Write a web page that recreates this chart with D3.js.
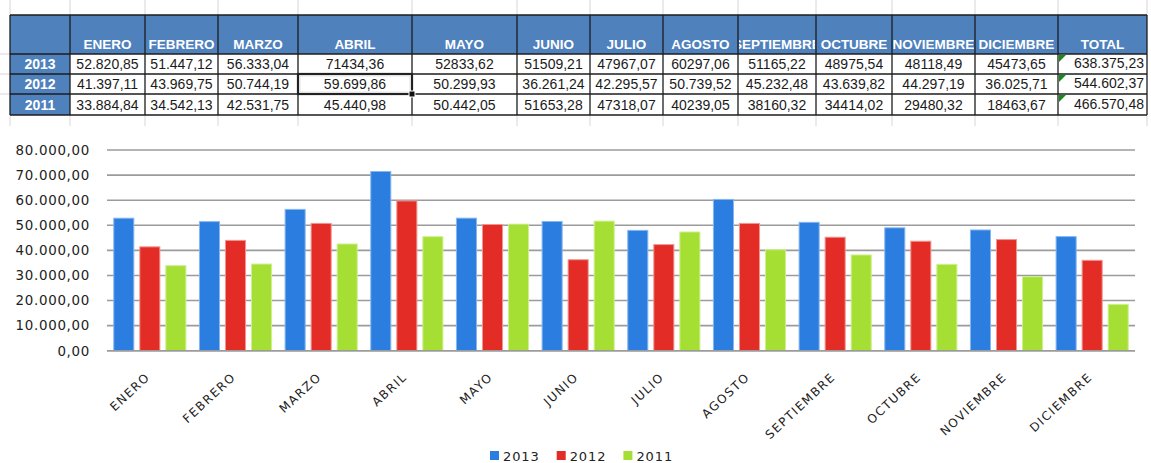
<!DOCTYPE html>
<html><head><meta charset="utf-8">
<script src="https://cdn.jsdelivr.net/npm/d3@7"></script>
<style>
html,body{margin:0;padding:0;background:#fff;}
svg{display:block;}
</style></head>
<body>
<svg id="c" width="1151" height="463"></svg>
<script>
const months = ["ENERO","FEBRERO","MARZO","ABRIL","MAYO","JUNIO","JULIO","AGOSTO","SEPTIEMBRE","OCTUBRE","NOVIEMBRE","DICIEMBRE"];
const years = ["2013","2012","2011"];
const v2013 = [52820.85,51447.12,56333.04,71434.36,52833.62,51509.21,47967.07,60297.06,51165.22,48975.54,48118.49,45473.65];
const v2012 = [41397.11,43969.75,50744.19,59699.86,50299.93,36261.24,42295.57,50739.52,45232.48,43639.82,44297.19,36025.71];
const v2011 = [33884.84,34542.13,42531.75,45440.98,50442.05,51653.28,47318.07,40239.05,38160.32,34414.02,29480.32,18463.67];
const totals = ["638.375,23","544.602,37","466.570,48"];
// table cell texts as shown in the sheet (some cells lack thousands separators)
const txt2013 = ["52.820,85","51.447,12","56.333,04","71434,36","52833,62","51509,21","47967,07","60297,06","51165,22","48975,54","48118,49","45473,65"];
const txt2012 = ["41.397,11","43.969,75","50.744,19","59.699,86","50.299,93","36.261,24","42.295,57","50.739,52","45.232,48","43.639,82","44.297,19","36.025,71"];
const txt2011 = ["33.884,84","34.542,13","42.531,75","45.440,98","50.442,05","51653,28","47318,07","40239,05","38160,32","34414,02","29480,32","18463,67"];
const yTicks = [0,10000,20000,30000,40000,50000,60000,70000,80000];

const series = [v2013, v2012, v2011];
const colors = ["#2B7DE0","#E22C25","#A6DF33"];
const strokes = ["#86B6F0","#F29490","#CDEF8E"];
const rowTexts = [txt2013, txt2012, txt2011];

const svg = d3.select("#c");
const locale = d3.formatLocale({decimal:",", thousands:".", grouping:[3], currency:["",""]});
const fmt = locale.format(",.2f");

// ---------- Table ----------
const colX = [10,70,145,218,298,412,517,590,663,738,816,892,975,1058,1147];
const rowY = [15,54,74,94,115];
const gridC = "#d6d6d6";
const tg = svg.append("g");
colX.forEach(x=>{
  tg.append("line").attr("x1",x).attr("x2",x).attr("y1",0).attr("y2",15).attr("stroke",gridC);
  tg.append("line").attr("x1",x).attr("x2",x).attr("y1",115).attr("y2",126).attr("stroke",gridC);
});
[54,74,94].forEach(y=>tg.append("line").attr("x1",0).attr("x2",10).attr("y1",y).attr("y2",y).attr("stroke",gridC));

const headers = [""].concat(months).concat(["TOTAL"]);
const defs = svg.append("defs");
headers.forEach((h,i)=>{
  const x0 = colX[i], x1 = colX[i+1];
  tg.append("rect").attr("x",x0).attr("y",rowY[0]).attr("width",x1-x0).attr("height",rowY[1]-rowY[0]).attr("fill","#4F81BD");
  defs.append("clipPath").attr("id","hc"+i).append("rect").attr("x",x0+1).attr("y",rowY[0]).attr("width",x1-x0-2).attr("height",rowY[1]-rowY[0]);
  tg.append("text").attr("x",(x0+x1)/2).attr("y",49).attr("text-anchor","middle")
    .attr("clip-path","url(#hc"+i+")")
    .attr("font-family","Liberation Sans, Arial, sans-serif").attr("font-weight","bold")
    .attr("font-size",13.5).attr("fill","#fff").text(h);
});
years.forEach((yr,r)=>{
  const y0 = rowY[r+1], y1 = rowY[r+2];
  tg.append("rect").attr("x",colX[0]).attr("y",y0).attr("width",colX[1]-colX[0]).attr("height",y1-y0).attr("fill","#4F81BD");
  tg.append("text").attr("x",(colX[0]+colX[1])/2).attr("y",y1-5).attr("text-anchor","middle")
    .attr("font-family","Liberation Sans, Arial, sans-serif").attr("font-weight","bold")
    .attr("font-size",14).attr("fill","#fff").text(yr);
  rowTexts[r].forEach((t,c)=>{
    const x0 = colX[c+1], x1 = colX[c+2];
    tg.append("text").attr("x",(x0+x1)/2).attr("y",y1-5).attr("text-anchor","middle")
      .attr("font-family","Liberation Sans, Arial, sans-serif")
      .attr("font-size",14).attr("fill","#1a1a1a").text(t);
  });
  tg.append("text").attr("x",colX[14]-3).attr("y",y1-6).attr("text-anchor","end")
    .attr("font-family","Liberation Sans, Arial, sans-serif")
    .attr("font-size",14).attr("fill","#1a1a1a").text(totals[r]);
  tg.append("path").attr("d",`M${colX[13]+1},${y0+1}h7l-7,7z`).attr("fill","#178A17");
});
const bc = "#1c1c1c";
colX.forEach(x=>tg.append("line").attr("x1",x).attr("x2",x).attr("y1",rowY[0]).attr("y2",rowY[4]).attr("stroke",bc).attr("stroke-width",1.3));
rowY.forEach(y=>tg.append("line").attr("x1",colX[0]).attr("x2",colX[14]).attr("y1",y).attr("y2",y).attr("stroke",bc).attr("stroke-width",1.3));
// selected cell (ABRIL 2012)
tg.append("rect").attr("x",colX[4]).attr("y",rowY[2]).attr("width",colX[5]-colX[4]).attr("height",rowY[3]-rowY[2])
  .attr("fill","none").attr("stroke","#222").attr("stroke-width",2.2);
tg.append("rect").attr("x",colX[4]+2).attr("y",rowY[2]+2).attr("width",colX[5]-colX[4]-4).attr("height",rowY[3]-rowY[2]-4)
  .attr("fill","none").attr("stroke","#ddd").attr("stroke-width",0.8);
tg.append("rect").attr("x",colX[5]-3).attr("y",rowY[3]-3).attr("width",6).attr("height",6)
  .attr("fill","#111").attr("stroke","#fff").attr("stroke-width",1);

// ---------- Chart ----------
const x0 = d3.scaleBand().domain(months).range([107,1135]).padding(0);
const x1 = d3.scaleBand().domain(years).range([0,x0.bandwidth()]).paddingInner(0.23).paddingOuter(0.26);
const y = d3.scaleLinear().domain([0,80000]).range([350.7,150]);

const cg = svg.append("g");
cg.selectAll("line.grid").data(yTicks).join("line").attr("class","grid")
  .attr("x1",107).attr("x2",1135).attr("y1",d=>y(d)).attr("y2",d=>y(d))
  .attr("stroke","#9b9b9b").attr("stroke-width",1.6);
cg.selectAll("text.yl").data(yTicks).join("text").attr("class","yl")
  .attr("x",90).attr("y",d=>y(d)).attr("dy","0.36em").attr("text-anchor","end")
  .attr("font-family","DejaVu Sans, Verdana, sans-serif").attr("font-size",13.4)
  .attr("letter-spacing",0.7).attr("fill","#222").text(d=>fmt(d));

series.forEach((vals,si)=>{
  cg.append("g").selectAll("rect").data(months.map((m,i)=>({m,v:vals[i]}))).join("rect")
    .attr("x",d=>x0(d.m)+x1(years[si])).attr("width",x1.bandwidth())
    .attr("y",d=>y(d.v)).attr("height",d=>y(0)-y(d.v))
    .attr("fill",colors[si]).attr("stroke",strokes[si]).attr("stroke-width",1);
});
cg.append("line").attr("x1",107).attr("x2",1135).attr("y1",y(0)).attr("y2",y(0)).attr("stroke","#9b9b9b").attr("stroke-width",1.6);

cg.selectAll("text.xl").data(months).join("text").attr("class","xl")
  .attr("transform",d=>`translate(${x0(d)+x0.bandwidth()/2+1},378) rotate(-43)`)
  .attr("text-anchor","end")
  .attr("font-family","DejaVu Sans, Verdana, sans-serif").attr("font-size",12)
  .attr("letter-spacing",1.5).attr("fill","#222").text(d=>d);

// legend
const lg = svg.append("g");
years.forEach((yr,i)=>{
  const lx = 490 + i*66.7;
  lg.append("rect").attr("x",lx).attr("y",451).attr("width",9).attr("height",9).attr("fill",colors[i]);
  lg.append("text").attr("x",lx+13).attr("y",460.5).attr("font-family","DejaVu Sans, Verdana, sans-serif")
    .attr("font-size",13).attr("letter-spacing",0.9).attr("fill","#222").text(yr);
});
</script>
</body></html>
